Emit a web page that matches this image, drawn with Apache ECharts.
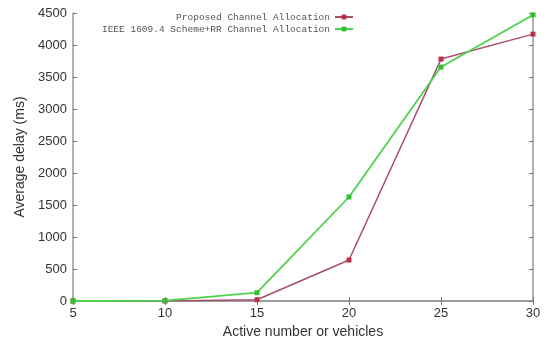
<!DOCTYPE html>
<html><head><meta charset="utf-8">
<script src="https://cdn.jsdelivr.net/npm/echarts@6/dist/echarts.min.js"></script>
<style>html,body{margin:0;padding:0;background:#fff}#c{width:551px;height:344px}</style>
</head><body><div id="c"></div>
<script>
const categories = [5, 10, 15, 20, 25, 30];
const proposed = [0, 0, 20, 640, 3780, 4170];
const ieee = [0, 5, 130, 1625, 3655, 4470];
const seriesNames = ['Proposed Channel Allocation', 'IEEE 1609.4 Scheme+RR Channel Allocation'];

const chart = echarts.init(document.getElementById('c'));
const axisLine = {lineStyle: {color: '#999', width: 1.5}};
const tick = {show: true, inside: true, length: 4, lineStyle: {color: '#777'}};
chart.setOption({
  animation: false,
  grid: {left: 73, right: 18, top: 13, bottom: 43},
  legend: {
    orient: 'vertical', right: 192, top: 12, align: 'right', itemGap: 2,
    itemWidth: 18, itemHeight: 6, padding: [0, 5, 0, 5],
    textStyle: {fontFamily: 'Liberation Mono', fontSize: 9.5, color: '#555'},
    data: seriesNames
  },
  xAxis: [{
    type: 'value', min: 5, max: 30, interval: 5,
    name: 'Active number or vehicles', nameLocation: 'middle', nameGap: 24,
    nameTextStyle: {fontFamily: 'Liberation Sans', fontSize: 14, color: '#333'},
    axisLine: axisLine, axisTick: tick, splitLine: {show: false},
    axisLabel: {fontFamily: 'Liberation Sans', fontSize: 13, color: '#333', margin: 6}
  }, {
    type: 'value', min: 5, max: 30, interval: 5, position: 'top',
    axisLine: axisLine, axisTick: tick, axisLabel: {show: false}, splitLine: {show: false}
  }],
  yAxis: [{
    type: 'value', min: 0, max: 4500, interval: 500,
    name: 'Average delay (ms)', nameLocation: 'middle', nameGap: 41,
    nameTextStyle: {fontFamily: 'Liberation Sans', fontSize: 14, color: '#333'},
    axisLine: {show: true, lineStyle: {color: '#999', width: 1.5}}, axisTick: tick, splitLine: {show: false},
    axisLabel: {fontFamily: 'Liberation Sans', fontSize: 13, color: '#333', margin: 6, formatter: v => String(v)}
  }, {
    type: 'value', min: 0, max: 4500, interval: 500, position: 'right',
    axisLine: {show: true, lineStyle: {color: '#999', width: 1.5}}, axisTick: tick, axisLabel: {show: false}, splitLine: {show: false}
  }],
  series: [{
    name: seriesNames[0], type: 'line',
    data: categories.map((c, i) => [c, proposed[i]]),
    symbol: 'rect', symbolSize: 5,
    lineStyle: {color: '#a8506a', width: 1.5},
    itemStyle: {color: '#b83048'}, z: 3
  }, {
    name: seriesNames[1], type: 'line',
    data: categories.map((c, i) => [c, ieee[i]]),
    symbol: 'rect', symbolSize: 5,
    lineStyle: {color: '#4cd24c', width: 1.8},
    itemStyle: {color: '#30c030'}, z: 4
  }]
});
</script></body></html>
